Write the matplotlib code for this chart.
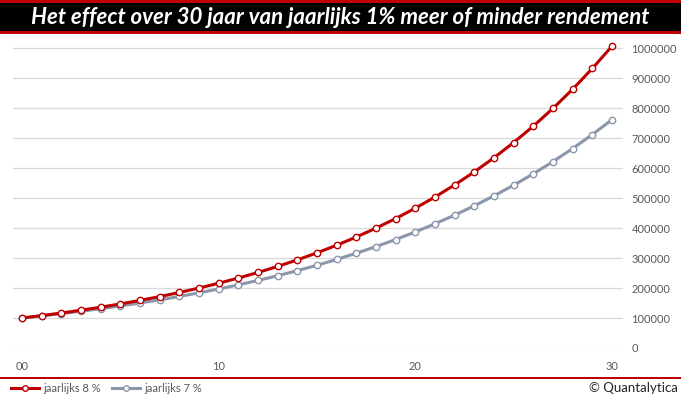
import matplotlib
matplotlib.use("Agg")
import matplotlib.pyplot as plt
from matplotlib.patches import Rectangle

years = list(range(0, 31))
series_8 = [100000, 108000, 116640, 125971, 136049, 146933, 158687, 171382, 185093, 199900,
            215892, 233164, 251817, 271962, 293719, 317217, 342594, 370002, 399602, 431570,
            466096, 503383, 543654, 587146, 634118, 684848, 739635, 798806, 862711, 931727,
            1006266]
series_7 = [100000, 107000, 114490, 122504, 131080, 140255, 150073, 160578, 171819, 183846,
            196715, 210485, 225219, 240985, 257853, 275903, 295216, 315882, 337993, 361653,
            386968, 414056, 443040, 474053, 507237, 542743, 580735, 621387, 664884, 711426,
            761226]
label_8 = "jaarlijks 8 %"
label_7 = "jaarlijks 7 %"
xticks = [0, 10, 20, 30]
xticklabels = ["00", "10", "20", "30"]
yticks = [0, 100000, 200000, 300000, 400000, 500000, 600000, 700000, 800000, 900000, 1000000]
title = "Het effect over 30 jaar van jaarlijks 1% meer of minder rendement"
credit = "© Quantalytica"

RED = "#c00000"
GRAY = "#8a97aa"
TXT = "#595959"

W, H = 681, 399
fig = plt.figure(figsize=(W / 100, H / 100), dpi=100)
fig.patch.set_facecolor("white")

# title bar
fig.add_artist(Rectangle((0, 1 - 34 / H), 1, 34 / H, transform=fig.transFigure,
                         facecolor=RED, edgecolor="none"))
fig.add_artist(Rectangle((0, 1 - 31 / H), 1, 28 / H, transform=fig.transFigure,
                         facecolor="black", edgecolor="none"))
fig.text(0.5, 1 - 17.5 / H, title, color="white", fontsize=16, fontweight="bold",
         fontstyle="italic", family="Lato", ha="center", va="center")

# bottom separator
fig.add_artist(Rectangle((0, 1 - 379 / H), 1, 2 / H, transform=fig.transFigure,
                         facecolor=RED, edgecolor="none"))

left, right = 13 / W, 623 / W
bottom, top = (H - 348) / H, (H - 34) / H
ax = fig.add_axes([left, bottom, right - left, top - bottom])

l8, = ax.plot(years, series_8, color=RED, lw=2.2, marker="o", ms=4.6,
              mfc="white", mec=RED, mew=1, zorder=3, label=label_8)
l7, = ax.plot(years, series_7, color=GRAY, lw=2.2, marker="o", ms=4.6,
              mfc="white", mec=GRAY, mew=1, zorder=2, label=label_7)

ax.set_xlim(-0.46, 30.56)
ax.set_ylim(0, 1046667)
ax.set_yticks(yticks)
ax.set_yticklabels([str(v) for v in yticks])
ax.set_xticks(xticks)
ax.set_xticklabels(xticklabels)
ax.yaxis.tick_right()
ax.grid(axis="y", color="#d9d9d9", lw=0.9)
ax.set_axisbelow(True)
for s in ax.spines.values():
    s.set_visible(False)
ax.tick_params(axis="both", length=0, labelsize=8, labelcolor=TXT)
ax.tick_params(axis="y", pad=6)
ax.tick_params(axis="x", pad=9)
for lab in ax.get_xticklabels() + ax.get_yticklabels():
    lab.set_family("Lato")

leg = fig.legend(handles=[l8, l7], loc="center left",
                 bbox_to_anchor=(11 / W, 1 - 388 / H), ncol=2, frameon=False,
                 handlelength=2.5, handletextpad=0.4, columnspacing=1.0,
                 borderpad=0, borderaxespad=0, prop={"family": "Lato", "size": 8})
for t in leg.get_texts():
    t.set_color(TXT)
for h in leg.legend_handles:
    h.set_markersize(4)

fig.text(678 / W, 1 - 388 / H, credit, ha="right", va="center", fontsize=9.5,
         color="#262626", family="Lato")

fig.savefig("out.png", dpi=100)
